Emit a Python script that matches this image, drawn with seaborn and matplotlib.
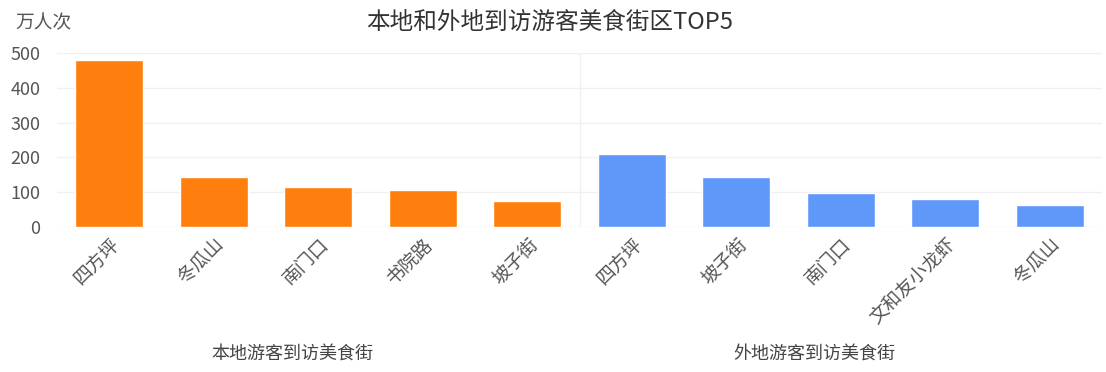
import pandas as pd
import matplotlib
matplotlib.use('Agg')
import matplotlib.pyplot as plt
import seaborn as sns

# Local vs. out-of-town visitors to food streets (10k visits)
local_streets = ['四方坪', '冬瓜山', '南门口', '书院路', '坡子街']
local_visits = [480, 144, 115, 106, 75]
outside_streets = ['四方坪', '坡子街', '南门口', '文和友小龙虾', '冬瓜山']
outside_visits = [210, 144, 98, 80, 63]
group_names = ['本地游客到访美食街', '外地游客到访美食街']
group_colors = ['#FF7F0E', '#6098F9']

sns.set_theme(style='white')
plt.rcParams['font.family'] = ['Noto Sans CJK SC', 'DejaVu Sans']

df = pd.DataFrame({
    'street': local_streets + outside_streets,
    'visits': local_visits + outside_visits,
    'group': [group_names[0]] * len(local_streets) + [group_names[1]] * len(outside_streets),
})
df['key'] = df['group'] + '-' + df['street']

fig = plt.figure(figsize=(11.06, 3.72), dpi=100)
ax = fig.add_axes([0.0515, 0.39, 0.945, 0.4675])

sns.barplot(data=df, x='key', y='visits', hue='group', order=list(df['key']),
            palette=group_colors, dodge=False, width=0.65, legend=False,
            saturation=1, ax=ax)

ax.set_ylim(0, 500)
ax.set_yticks([0, 100, 200, 300, 400, 500])
ax.set_xlim(-0.5, len(df) - 0.5)
ax.set_xticks(range(len(df)))
ax.set_xticklabels(df['street'], rotation=45, ha='right', rotation_mode='anchor',
                   fontsize=13.5, color='#555555')
ax.tick_params(axis='y', labelsize=13, labelcolor='#555555', length=0, pad=12)
ax.tick_params(axis='x', length=0, pad=5)
ax.set_xlabel('')
ax.set_ylabel('')
ax.grid(axis='y', color='#f0f0f0', linewidth=1)
ax.set_axisbelow(True)
sns.despine(ax=ax, left=True, bottom=True)
ax.axvline(len(local_streets) - 0.5, color='#f0f0f0', linewidth=1, zorder=0)

# group captions below each half
n = len(local_streets)
ax.text((n - 1) / 2 - 0.25, -0.735, group_names[0], transform=ax.get_xaxis_transform(),
        ha='center', va='center', fontsize=13, color='#444444')
ax.text(n + (len(outside_streets) - 1) / 2 - 0.25, -0.735, group_names[1],
        transform=ax.get_xaxis_transform(), ha='center', va='center',
        fontsize=13, color='#444444')

fig.text(0.497, 0.94, '本地和外地到访游客美食街区TOP5', ha='center', va='center',
         fontsize=17, color='#333333')
fig.text(0.014, 0.94, '万人次', ha='left', va='center', fontsize=13.5, color='#555555')

fig.savefig('out.png', dpi=100)
